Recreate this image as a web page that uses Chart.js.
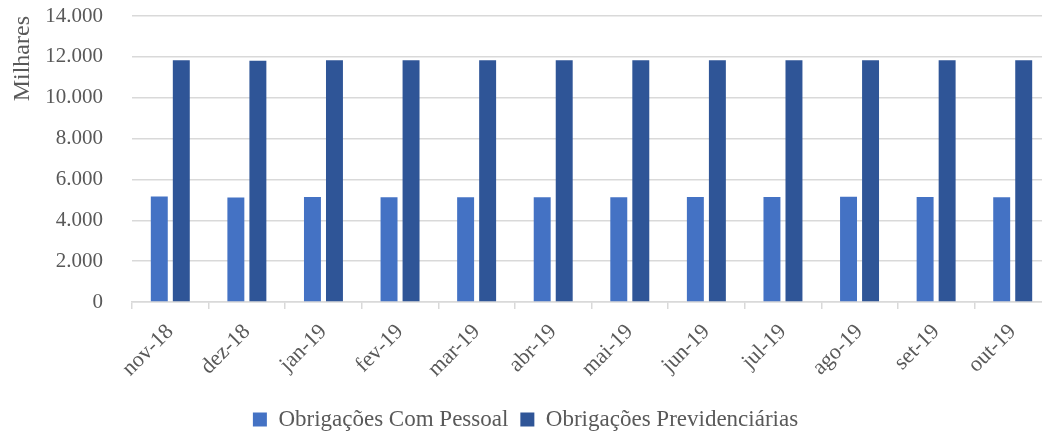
<!DOCTYPE html>
<html>
<head>
<meta charset="utf-8">
<script src="https://cdn.jsdelivr.net/npm/chart.js@4.4.1/dist/chart.umd.min.js"></script>
<style>
  html, body { margin: 0; padding: 0; background: #fff; overflow: hidden; }
  #wrap { width: 1052px; height: 441px; position: relative; }
</style>
</head>
<body>
<div id="wrap"><canvas id="c"></canvas></div>
<script>
const categories = ['nov-18','dez-18','jan-19','fev-19','mar-19','abr-19','mai-19','jun-19','jul-19','ago-19','set-19','out-19'];
const seriesNames = ['Obrigações Com Pessoal', 'Obrigações Previdenciárias'];
const pessoal = [5160, 5110, 5145, 5130, 5130, 5130, 5130, 5140, 5140, 5150, 5140, 5130];
const previdenciarias = [11840, 11810, 11830, 11830, 11830, 11830, 11830, 11830, 11830, 11830, 11830, 11830];
const yTicks = [0, 2000, 4000, 6000, 8000, 10000, 12000, 14000];
const yTitle = 'Milhares';

const FONT = "'Liberation Serif', 'Times New Roman', serif";
const GREY = '#595959';

new Chart(document.getElementById('c'), {
  type: 'bar',
  data: {
    labels: categories,
    datasets: [
      { label: seriesNames[0], data: pessoal, backgroundColor: '#4472C4',
        categoryPercentage: 0.575, barPercentage: 0.77 },
      { label: seriesNames[1], data: previdenciarias, backgroundColor: '#2F5597',
        categoryPercentage: 0.575, barPercentage: 0.77 }
    ]
  },
  options: {
    responsive: true,
    maintainAspectRatio: false,
    animation: false,
    layout: { padding: { top: 16, left: 0, right: 1, bottom: 0 } },
    plugins: {
      tooltip: { enabled: false },
      legend: {
        position: 'bottom',
        labels: {
          font: { family: FONT, size: 23 },
          color: GREY,
          boxWidth: 14,
          boxHeight: 14,
          padding: 12
        }
      }
    },
    scales: {
      x: {
        grid: { display: true, drawOnChartArea: false, offset: true, color: '#d9d9d9', lineWidth: 1.5, tickLength: 7 },
        border: { display: true, color: '#d9d9d9', width: 1.5 },
        ticks: {
          font: { family: FONT, size: 22 },
          color: GREY,
          minRotation: 45,
          maxRotation: 45,
          autoSkip: false,
          padding: 10
        },
        afterFit: (s) => { s.height = 94; }
      },
      y: {
        min: 0,
        max: 14000,
        afterBuildTicks: (s) => { s.ticks = yTicks.map(v => ({ value: v })); },
        grid: { color: '#d9d9d9', lineWidth: 1.5, drawTicks: true, tickLength: 29, tickColor: 'rgba(0,0,0,0)' },
        border: { display: false },
        ticks: {
          font: { family: FONT, size: 21 },
          color: GREY,
          padding: 0,
          callback: (v) => v.toLocaleString('pt-BR')
        },
        title: {
          display: true,
          text: yTitle,
          align: 'end',
          font: { family: FONT, size: 24 },
          color: GREY,
          padding: { top: 8, bottom: 0 }
        },
        afterFit: (s) => { s.width = 132; }
      }
    }
  }
});
</script>
</body>
</html>
